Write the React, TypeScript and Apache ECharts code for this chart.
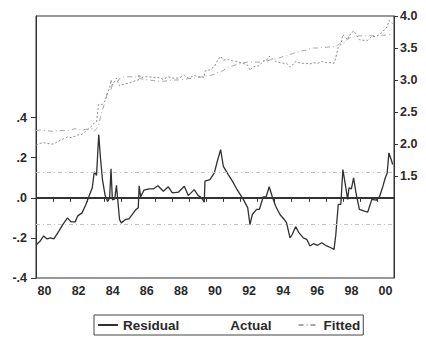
import React, { useEffect, useRef } from "react";
import * as echarts from "echarts";

// Observation dates (fractional years), shared by all three series
const dates = [
  1980.0, 1980.25, 1980.45, 1980.65, 1980.85, 1981.05, 1981.35, 1981.6, 1981.85, 1982.05,
  1982.3, 1982.45, 1982.7, 1982.92, 1983.1, 1983.3, 1983.42, 1983.55, 1983.68, 1983.78,
  1983.9, 1984.06, 1984.2, 1984.32, 1984.4, 1984.48, 1984.62, 1984.72, 1984.8, 1984.9,
  1985.0, 1985.25, 1985.45, 1985.65, 1985.85, 1986.0, 1986.05, 1986.14, 1986.33, 1986.63,
  1986.9, 1987.15, 1987.47, 1987.76, 1988.0, 1988.35, 1988.7, 1988.93, 1989.28, 1989.52,
  1989.72, 1989.87, 1989.91, 1990.2, 1990.46, 1990.66, 1990.83, 1990.99, 1991.28, 1991.52,
  1991.77, 1992.02, 1992.16, 1992.42, 1992.55, 1992.69, 1992.94, 1993.1, 1993.33, 1993.5,
  1993.68, 1993.86, 1994.06, 1994.31, 1994.56, 1994.7, 1994.9, 1995.03, 1995.23, 1995.42,
  1995.68, 1995.88, 1996.07, 1996.27, 1996.52, 1996.76, 1997.05, 1997.3, 1997.48, 1997.58,
  1997.73, 1997.88, 1998.0, 1998.16, 1998.28, 1998.36, 1998.5, 1998.63, 1998.77, 1998.97,
  1999.26, 1999.46, 1999.7, 1999.96, 2000.15, 2000.35, 2000.49, 2000.6, 2000.7, 2000.84,
  2000.92,
];

// Residuals (left axis)
const residual = [
  -0.235, -0.215, -0.19, -0.205, -0.2, -0.205, -0.165, -0.13, -0.1, -0.12,
  -0.12, -0.09, -0.075, -0.035, 0.005, 0.05, 0.13, 0.112, 0.315, 0.2,
  0.09, 0.01, -0.018, 0.0, 0.145, -0.01, -0.005, 0.062, -0.014, -0.108,
  -0.125, -0.108, -0.105, -0.083, -0.06, -0.05, 0.06, 0.005, 0.038, 0.045,
  0.045, 0.06, 0.033, 0.055, 0.025, 0.028, 0.058, 0.011, 0.041, 0.011,
  0.0, -0.022, 0.083, 0.091, 0.124, 0.19, 0.24, 0.157, 0.116, 0.083,
  0.045, 0.011, -0.008, -0.05, -0.133, -0.083, -0.058, -0.058, 0.005, 0.005,
  0.055, 0.005, -0.042, -0.083, -0.108, -0.125, -0.2, -0.183, -0.144, -0.174,
  -0.2, -0.207, -0.24, -0.229, -0.237, -0.224, -0.24, -0.249, -0.257, -0.19,
  -0.033, -0.033, 0.141, 0.058, -0.008, 0.05, 0.045, 0.1, 0.025, -0.058,
  -0.066, -0.071, -0.008, -0.012, 0.005, 0.058, 0.1, 0.124, 0.224, 0.19,
  0.166,
];

// Actual values (right axis)
const actual = [
  1.98, 2.01, 2.02, 2.01, 2.0, 2.0, 2.05, 2.08, 2.11, 2.1,
  2.12, 2.14, 2.15, 2.2, 2.24, 2.29, 2.33, 2.35, 2.62, 2.62,
  2.62, 2.68, 2.8, 2.87, 3.0, 2.92, 2.98, 3.03, 2.97, 2.91,
  2.92, 2.94, 2.95, 2.97, 2.99, 3.0, 3.09, 3.03, 3.05, 3.05,
  3.04, 3.04, 3.01, 3.05, 3.03, 3.03, 3.07, 3.03, 3.07, 3.05,
  3.05, 3.04, 3.14, 3.16, 3.21, 3.31, 3.37, 3.31, 3.32, 3.3,
  3.29, 3.27, 3.26, 3.23, 3.15, 3.2, 3.22, 3.22, 3.3, 3.3,
  3.37, 3.33, 3.29, 3.27, 3.26, 3.26, 3.2, 3.23, 3.29, 3.27,
  3.26, 3.26, 3.25, 3.27, 3.26, 3.29, 3.27, 3.27, 3.26, 3.34,
  3.52, 3.55, 3.71, 3.66, 3.63, 3.7, 3.72, 3.77, 3.71, 3.63,
  3.62, 3.62, 3.68, 3.68, 3.71, 3.76, 3.8, 3.83, 3.93, 3.9,
  3.88,
];

// Fitted values (right axis)
const fitted = [
  2.21, 2.22, 2.21, 2.21, 2.2, 2.2, 2.21, 2.21, 2.21, 2.22,
  2.24, 2.23, 2.22, 2.23, 2.23, 2.24, 2.2, 2.24, 2.3, 2.42,
  2.53, 2.67, 2.82, 2.87, 2.85, 2.93, 2.98, 2.97, 2.98, 3.02,
  3.04, 3.05, 3.05, 3.05, 3.05, 3.05, 3.03, 3.02, 3.01, 3.0,
  2.99, 2.98, 2.98, 2.99, 3.0, 3.0, 3.01, 3.02, 3.03, 3.04,
  3.05, 3.06, 3.06, 3.07, 3.09, 3.12, 3.13, 3.15, 3.2, 3.22,
  3.24, 3.26, 3.27, 3.28, 3.28, 3.28, 3.28, 3.28, 3.29, 3.29,
  3.31, 3.32, 3.33, 3.35, 3.37, 3.38, 3.4, 3.41, 3.43, 3.44,
  3.46, 3.47, 3.49, 3.5, 3.5, 3.51, 3.51, 3.52, 3.52, 3.53,
  3.55, 3.58, 3.57, 3.6, 3.64, 3.65, 3.67, 3.67, 3.68, 3.69,
  3.69, 3.69, 3.69, 3.69, 3.7, 3.7, 3.7, 3.71, 3.71, 3.71,
  3.71,
];

// Residual standard-error band
const stdErr = 0.127;

// Axis tick positions
const yearTicks = [
  1981, 1982, 1983, 1984, 1985, 1986, 1987, 1988, 1989, 1990,
  1991, 1992, 1993, 1994, 1995, 1996, 1997, 1998, 1999, 2000,
];
const yearLabels = [
  1980.5, 1982.5, 1984.5, 1986.5, 1988.5, 1990.5, 1992.5, 1994.5, 1996.5, 1998.5, 2000.5,
];
const residTicks = [-0.4, -0.2, 0, 0.2, 0.4];
const levelTicks = [1.5, 2.0, 2.5, 3.0, 3.5, 4.0];

const FONT = "'Liberation Sans', Arial, Helvetica, sans-serif";
const INK = "#2a2a2a";

export default function App() {
  const ref = useRef<HTMLDivElement>(null);

  useEffect(() => {
    if (!ref.current) return;
    const chart = echarts.init(ref.current, null, { renderer: "svg" });

    const pair = (vals: number[]) => dates.map((d, i) => [d, vals[i]]);

    const tickLabel = {
      color: INK,
      fontFamily: FONT,
      fontWeight: "bold" as const,
      fontSize: 12.5,
    };

    chart.setOption({
      animation: false,
      backgroundColor: "#ffffff",
      grid: {
        left: 36,
        right: 32,
        top: 16,
        bottom: 63,
        show: true,
        borderColor: "#333",
        borderWidth: 1,
        backgroundColor: "transparent",
      },
      legend: {
        left: 94,
        top: 315,
        padding: [3, 3, 3, 3],
        itemGap: 26,
        itemWidth: 20,
        itemHeight: 14,
        borderColor: "#444",
        borderWidth: 1,
        selectedMode: false,
        // line samples only, no marker in the middle
        itemStyle: { opacity: 0 },
        textStyle: {
          color: INK,
          fontFamily: FONT,
          fontWeight: "bold",
          fontSize: 13.5,
        },
        data: [
          { name: "Residual" },
          // the Actual sample prints too faint to see
          { name: "Actual", icon: "rect" },
          { name: "Fitted" },
        ],
      },
      xAxis: {
        type: "value",
        min: 1980,
        max: 2001,
        splitLine: { show: false },
        axisLine: { show: true, lineStyle: { color: "#333", width: 1 } },
        axisTick: {
          show: true,
          length: 4,
          customValues: yearTicks,
          lineStyle: { color: "#333" },
        },
        axisLabel: {
          ...tickLabel,
          margin: 6,
          customValues: yearLabels,
          formatter: (v: number) => String(Math.floor(v) % 100).padStart(2, "0"),
        },
      },
      yAxis: [
        {
          type: "value",
          position: "left",
          min: -0.4,
          max: 0.907,
          splitLine: { show: false },
          axisLine: { show: true, lineStyle: { color: "#333", width: 1 } },
          axisTick: {
            show: true,
            length: 5,
            customValues: residTicks,
            lineStyle: { color: "#333" },
          },
          axisLabel: {
            ...tickLabel,
            margin: 9,
            customValues: residTicks,
            formatter: (v: number) => v.toFixed(1).replace("0.", "."),
          },
        },
        {
          type: "value",
          position: "right",
          min: -0.094,
          max: 4.0,
          splitLine: { show: false },
          axisLine: { show: true, lineStyle: { color: "#333", width: 1 } },
          axisTick: {
            show: true,
            length: 4,
            customValues: levelTicks,
            lineStyle: { color: "#333" },
          },
          axisLabel: {
            ...tickLabel,
            margin: 6,
            customValues: levelTicks,
            formatter: (v: number) => v.toFixed(1),
          },
        },
      ],
      series: [
        {
          name: "Fitted",
          type: "line",
          yAxisIndex: 1,
          symbol: "none",
          data: pair(fitted),
          lineStyle: { color: "#a6a6a6", width: 1, type: [5, 3, 1, 3] },
          itemStyle: { color: "#a6a6a6" },
        },
        {
          name: "Actual",
          type: "line",
          yAxisIndex: 1,
          symbol: "none",
          data: pair(actual),
          lineStyle: { color: "#8a8a8a", width: 1, type: [2, 2] },
          itemStyle: { color: "#8a8a8a" },
        },
        {
          name: "Residual",
          type: "line",
          yAxisIndex: 0,
          symbol: "none",
          data: pair(residual),
          lineStyle: { color: "#303030", width: 1.3 },
          itemStyle: { color: "#303030" },
          markLine: {
            silent: true,
            symbol: "none",
            label: { show: false },
            data: [
              { yAxis: 0, lineStyle: { color: "#333", width: 2, type: "solid" } },
              { yAxis: stdErr, lineStyle: { color: "#c4c4c4", width: 1, type: [4, 3, 1, 3] } },
              { yAxis: -stdErr, lineStyle: { color: "#c4c4c4", width: 1, type: [4, 3, 1, 3] } },
            ],
          },
        },
      ],
    });

    return () => chart.dispose();
  }, []);

  return (
    <div
      ref={ref}
      style={{ position: "absolute", left: 0, top: 0, width: 426, height: 341 }}
    />
  );
}
